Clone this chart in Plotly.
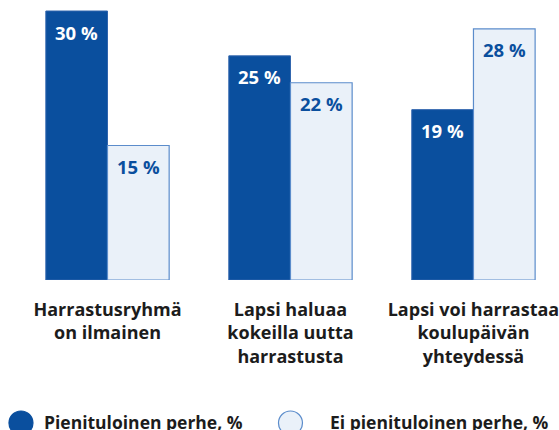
import plotly.graph_objects as go

categories = ["Harrastusryhmä<br>on ilmainen",
              "Lapsi haluaa<br>kokeilla uutta<br>harrastusta",
              "Lapsi voi harrastaa<br>koulupäivän<br>yhteydessä"]
low_income = [30, 25, 19]
not_low_income = [15, 22, 28]
series_names = ["Pienituloinen perhe, %", "Ei pienituloinen perhe, %"]

DARK = "#0a4f9e"
LIGHT = "#eaf1f9"
EDGE = "#5b8ccb"
TEXT = "#1c1c1c"
FONT = "Open Sans"

W, H = 559, 430
ML, MR, MT, MB = 16, 0, 0, 150
BARGAP = 0.326
slot_px = 184.0
x_range = [-0.5, -0.5 + (W - ML - MR) / slot_px]
y_top = 31.23

fig = go.Figure()
fig.add_trace(go.Bar(x=categories, y=low_income, name=series_names[0],
                     marker=dict(color=DARK, line=dict(color="#2f64ad", width=1)),
                     showlegend=False, hoverinfo="skip"))
fig.add_trace(go.Bar(x=categories, y=not_low_income, name=series_names[1],
                     marker=dict(color=LIGHT, line=dict(color=EDGE, width=1.2)),
                     showlegend=False, hoverinfo="skip"))

# value labels near the top of each bar
bar_w = slot_px * (1 - BARGAP) / 2
for vals, sign, col in [(low_income, -1, "white"), (not_low_income, 1, DARK)]:
    for i, v in enumerate(vals):
        fig.add_annotation(x=i, y=v, xref="x", yref="y", text=f"<b>{v} %</b>",
                           showarrow=False, xshift=sign * bar_w / 2, yshift=-21,
                           yanchor="middle", xanchor="center",
                           font=dict(family=FONT, size=18.5, color=col))

# legend drawn as circles + labels below the chart
plot_h = H - MT - MB
plot_w = W - ML - MR
def px_to_paper(px, py):
    return (px - ML) / plot_w, (H - MB - py) / plot_h

legend_items = [(21, 423, 12, DARK, "#0a4f9e", 42, series_names[0]),
                (292, 423, 12, LIGHT, EDGE, 330, series_names[1])]
for cx, cy, r, fill, line, tx, label in legend_items:
    ax, ay = px_to_paper(cx, cy)
    fig.add_shape(type="circle", xref="paper", yref="paper", xsizemode="pixel",
                  ysizemode="pixel", xanchor=ax, yanchor=ay, x0=-r, x1=r, y0=-r, y1=r,
                  fillcolor=fill, line=dict(color=line, width=1.2))
    lx, ly = px_to_paper(tx, cy - 1)
    fig.add_annotation(x=lx, y=ly, xref="paper", yref="paper", text=f"<b>{label}</b>",
                       showarrow=False, xanchor="left", yanchor="middle",
                       font=dict(family=FONT, size=17.5, color=TEXT))

fig.update_layout(
    width=W, height=H,
    margin=dict(l=ML, r=MR, t=MT, b=MB, pad=0),
    barmode="group", bargap=BARGAP, bargroupgap=0,
    plot_bgcolor="white", paper_bgcolor="white",
    font=dict(family=FONT, color=TEXT),
    showlegend=False,
)
fig.update_xaxes(range=x_range, showgrid=False, zeroline=False, showline=False,
                 ticks="", ticklabelstandoff=17,
                 tickfont=dict(family=FONT, size=18, color=TEXT, weight="bold"))
fig.update_yaxes(range=[0, y_top], visible=False, showgrid=False, zeroline=False)

fig.write_html("out.html")
